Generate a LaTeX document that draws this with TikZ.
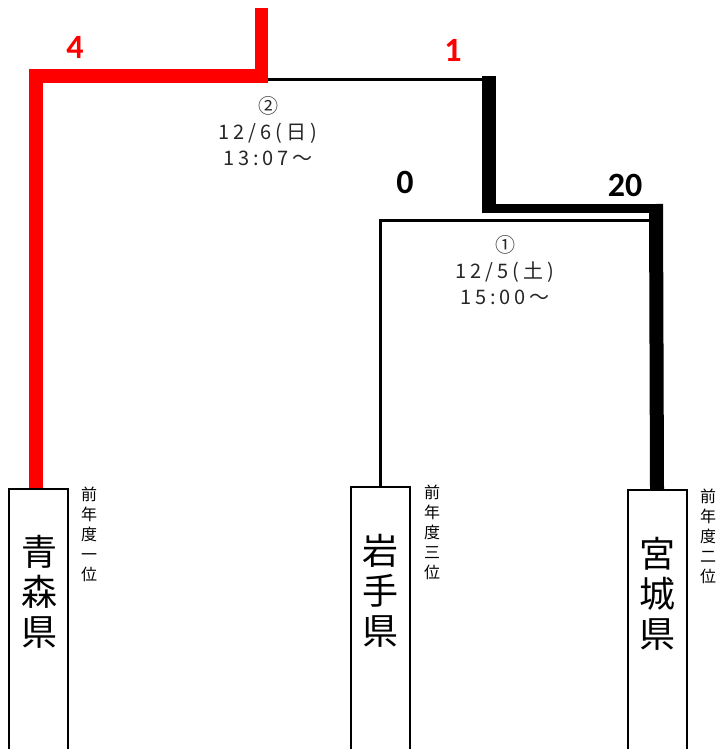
\documentclass[tikz,border=0pt]{standalone}
\usepackage{fontspec}
\newfontfamily\jpfont{Noto Sans CJK JP}
\newfontfamily\datefont[LetterSpace=20]{Noto Sans CJK JP}
\newfontfamily\scorefont{Carlito}
\usetikzlibrary{positioning}

\begin{document}
\begin{tikzpicture}[x=1pt, y=-1pt,
    team/.style={draw, line width=2pt, minimum width=59pt, minimum height=300pt, anchor=north, inner sep=0pt},
    teamname/.style={font=\jpfont\fontsize{36}{40}\selectfont, align=center},
    rank/.style={font=\jpfont\fontsize{16}{20}\selectfont, align=center, anchor=north, inner sep=0pt},
    info/.style={font=\datefont\fontsize{20}{26}\selectfont, align=center, text=black!85},
    score/.style={font=\scorefont\bfseries\fontsize{34}{34}\selectfont}]
    \useasboundingbox (0,0) rectangle (715,749);
    \clip (0,0) rectangle (715,749);
    % teams
    \node[team] (aomori) at (38.5,488) {};
    \node[team] (iwate) at (380,486) {};
    \node[team] (miyagi) at (657,489) {};
    \node[teamname] (aomori-name) at (39,592) {青\\森\\県};
    \node[teamname] (iwate-name) at (380,591) {岩\\手\\県};
    \node[teamname] (miyagi-name) at (657,594) {宮\\城\\県};
    \node[rank] (aomori-rank) at (89,487) {前\\年\\度\\一\\位};
    \node[rank] (iwate-rank) at (432,485) {前\\年\\度\\三\\位};
    \node[rank] (miyagi-rank) at (708,489) {前\\年\\度\\二\\位};
    % bracket points
    \coordinate (m2) at (261.5,76);
    \coordinate (final) at (261.5,8);
    \coordinate (r2) at (489,80);
    \coordinate (r2top) at (489,76);
    \coordinate (m1) at (489,213);
    \coordinate (m1l) at (482,208.5);
    \coordinate (m1r) at (663,208.5);
    \coordinate (c1) at (656,204);
    \coordinate (s1) at (650,220);
    % match 1
    \draw[line width=3pt] (iwate.north) |- (s1);
    \draw[line width=14pt] (miyagi.north) -- (c1);
    \draw[line width=9pt] (m1r) -- (m1l);
    \draw[line width=14pt] (m1) -- (r2top);
    % match 2
    \draw[line width=3pt] (m2 |- r2) -- (r2);
    \draw[red, line width=13.5pt, line join=miter] ([xshift=-2.5pt]aomori.north) |- (m2) -- (final);
    % scores
    \node[score, red] (score-aomori) at (75,47) {4};
    \node[score, red] (score-r2) at (453,50) {1};
    \node[score] (score-iwate) at (405,182) {0};
    \node[score] (score-miyagi) at (625,185) {20};
    % dates
    \node[info] (info2) at (268,131) {②\\12/6(日)\\13:07～};
    \node[info] (info1) at (505,270) {①\\12/5(土)\\15:00～};
\end{tikzpicture}
\end{document}
